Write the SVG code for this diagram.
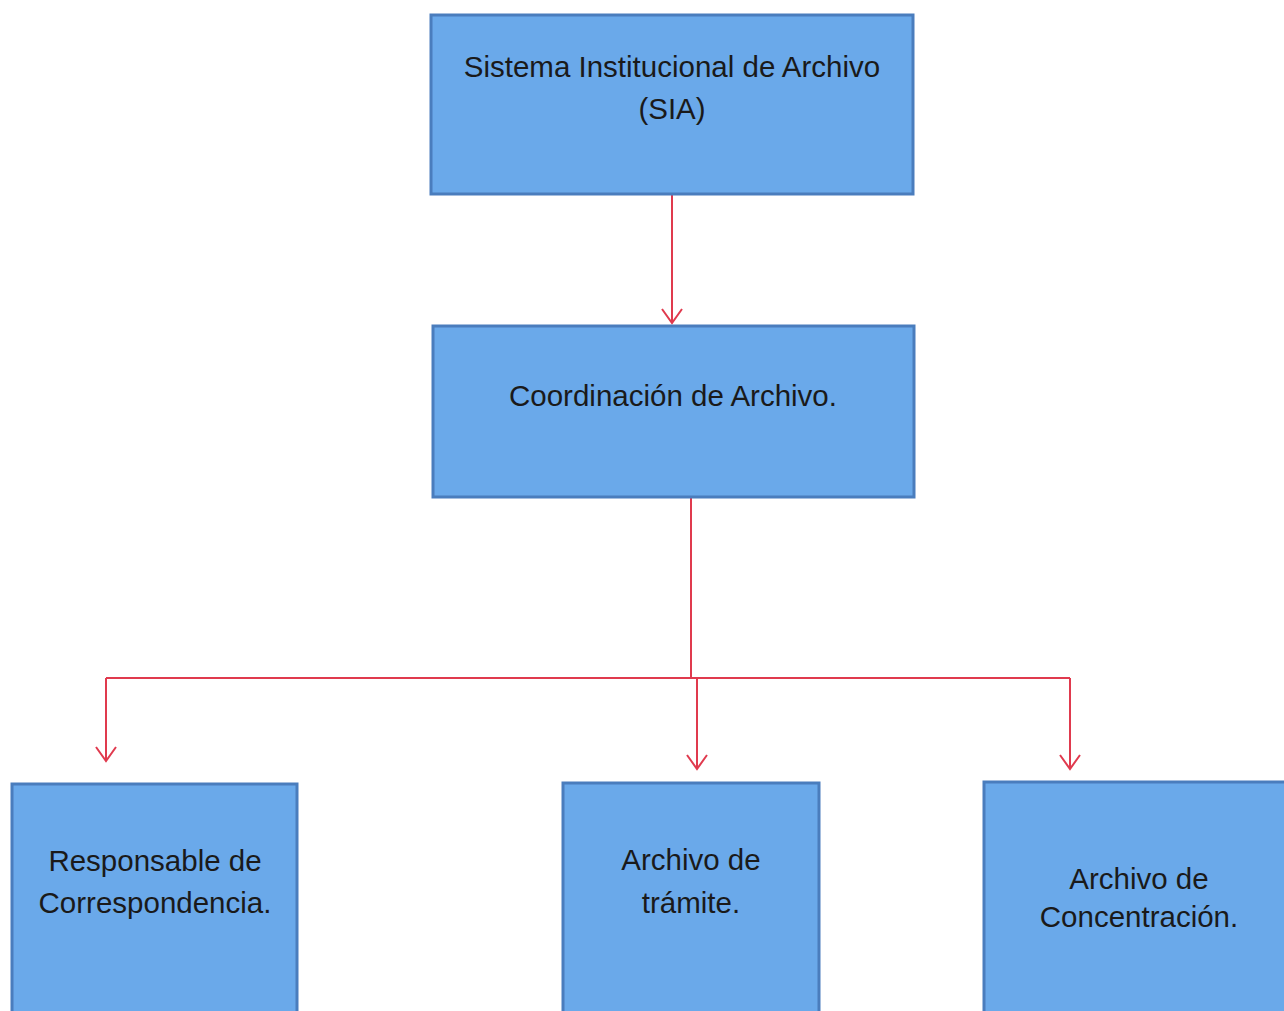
<svg xmlns="http://www.w3.org/2000/svg" width="1284" height="1011" viewBox="0 0 1284 1011">
<defs>
<style>
.box{fill:#6aa9ea;stroke:#4a7dbd;stroke-width:3}
.lbl{font-family:"Liberation Sans","Noto Sans",sans-serif;font-size:29.5px;fill:#1a1a1a;text-anchor:middle}
.edge{fill:none;stroke:#e03a4e;stroke-width:2}
</style>
<marker id="arr" markerWidth="24" markerHeight="24" refX="16" refY="12" orient="auto" markerUnits="userSpaceOnUse" viewBox="0 0 24 24">
<path d="M2,2 L16,12 L2,22" fill="none" stroke="#e03a4e" stroke-width="2"/>
</marker>
</defs>
<rect width="1284" height="1011" fill="#ffffff"/>
<g id="connectors">
<line class="edge" x1="672" y1="195" x2="672" y2="323" marker-end="url(#arr)"/>
<polyline class="edge" points="691,498 691,678"/>
<polyline class="edge" points="106,678 1070,678"/>
<line class="edge" x1="106" y1="678" x2="106" y2="761" marker-end="url(#arr)"/>
<line class="edge" x1="697" y1="678" x2="697" y2="769" marker-end="url(#arr)"/>
<line class="edge" x1="1070" y1="678" x2="1070" y2="769" marker-end="url(#arr)"/>
</g>
<g id="sia">
<rect class="box" x="431" y="15" width="482" height="179"/>
<text class="lbl" x="672" y="77">Sistema Institucional de Archivo</text>
<text class="lbl" x="672" y="119">(SIA)</text>
</g>
<g id="coordinacion">
<rect class="box" x="433" y="326" width="481" height="171"/>
<text class="lbl" x="673" y="406">Coordinación de Archivo.</text>
</g>
<g id="responsable">
<rect class="box" x="12" y="784" width="285" height="240"/>
<text class="lbl" x="155" y="871">Responsable de</text>
<text class="lbl" x="155" y="913">Correspondencia.</text>
</g>
<g id="tramite">
<rect class="box" x="563" y="783" width="256" height="240"/>
<text class="lbl" x="691" y="870">Archivo de</text>
<text class="lbl" x="691" y="913">trámite.</text>
</g>
<g id="concentracion">
<rect class="box" x="984" y="782" width="310" height="240"/>
<text class="lbl" x="1139" y="889">Archivo de</text>
<text class="lbl" x="1139" y="927">Concentración.</text>
</g>
</svg>
